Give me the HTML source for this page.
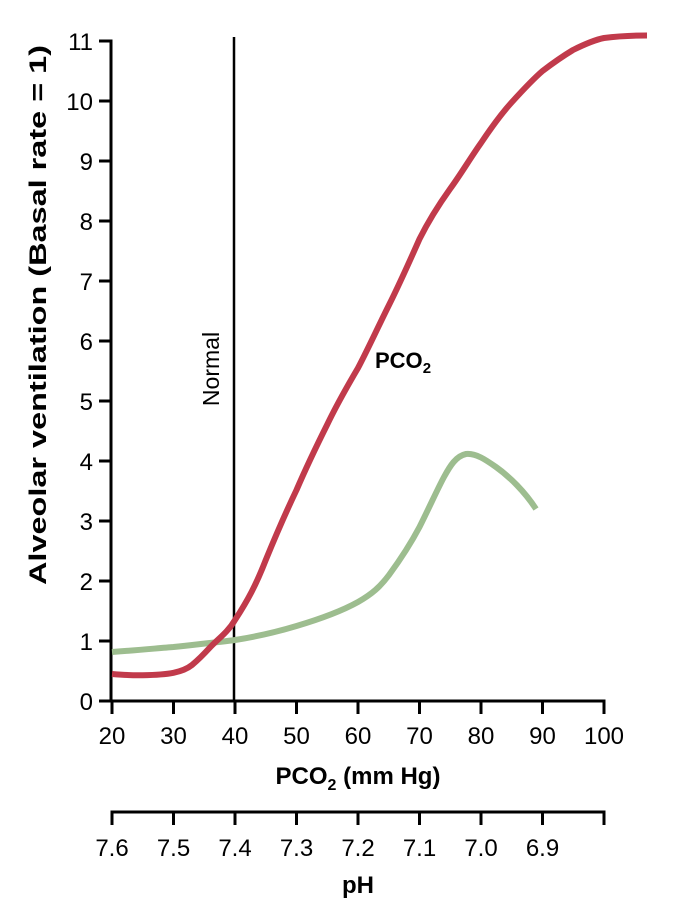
<!DOCTYPE html>
<html><head><meta charset="utf-8"><style>
html,body{margin:0;padding:0;background:#fff;}
svg{display:block;font-family:"Liberation Sans",Arial,sans-serif;}
</style></head><body>
<svg width="677" height="902" viewBox="0 0 677 902" xmlns="http://www.w3.org/2000/svg">
<g stroke="#000" stroke-width="3" fill="none">
<path d="M99,41 H111 V701 H604 V714"/>
<path d="M99,101H111M99,161H111M99,221H111M99,281H111M99,341H111M99,401H111M99,461H111M99,521H111M99,581H111M99,641H111M99,701H111"/>
<path d="M112,701V714M173.5,701V714M235,701V714M296.5,701V714M358,701V714M419.5,701V714M481,701V714M542.5,701V714"/>
<path d="M112,825V812H604V825M173.5,812V825M235,812V825M296.5,812V825M358,812V825M419.5,812V825M481,812V825M542.5,812V825"/>
<path d="M234,37V701" stroke-width="2.5"/>
</g>
<g font-size="24" text-anchor="end" fill="#000">
<text x="93" y="50">11</text><text x="93" y="110">10</text><text x="93" y="170">9</text><text x="93" y="230">8</text><text x="93" y="290">7</text><text x="93" y="350">6</text><text x="93" y="410">5</text><text x="93" y="470">4</text><text x="93" y="530">3</text><text x="93" y="590">2</text><text x="93" y="650">1</text><text x="93" y="710">0</text>
</g>
<g font-size="24" text-anchor="middle" fill="#000">
<text x="112" y="744">20</text><text x="173.5" y="744">30</text><text x="235" y="744">40</text><text x="296.5" y="744">50</text><text x="358" y="744">60</text><text x="419.5" y="744">70</text><text x="481" y="744">80</text><text x="542.5" y="744">90</text><text x="604" y="744">100</text>
<text x="112" y="856">7.6</text><text x="173.5" y="856">7.5</text><text x="235" y="856">7.4</text><text x="296.5" y="856">7.3</text><text x="358" y="856">7.2</text><text x="419.5" y="856">7.1</text><text x="481" y="856">7.0</text><text x="542.5" y="856">6.9</text>
</g>
<text x="358" y="784" font-size="24" font-weight="bold" text-anchor="middle">PCO<tspan font-size="16" dy="6">2</tspan><tspan dy="-6"> (mm Hg)</tspan></text>
<text x="358" y="893" font-size="24" font-weight="bold" text-anchor="middle">pH</text>
<text x="375" y="368" font-size="22" font-weight="bold">PCO<tspan font-size="15" dy="5">2</tspan></text>
<text transform="translate(219,369) rotate(-90)" font-size="23" text-anchor="middle">Normal</text>
<text transform="translate(46,315) rotate(-90)" font-size="24" font-weight="bold" text-anchor="middle" textLength="540" lengthAdjust="spacingAndGlyphs">Alveolar ventilation (Basal rate = 1)</text>
<path d="M112,652 C140,650 160,648 173.5,647 C200,644 220,642 235,640 C260,636 280,631 296.5,626 C320,619 340,612 358,602 C372,594 380,587 389,575 C400,560 410,545 419.5,527 C430,506 438,488 444,477 C450,466 456,456 466,454 C476,453 486,460 496,467 C510,477 525,492 536,509" stroke="#9dbd8f" stroke-width="6" fill="none"/>
<path d="M112,674 C125,675 135,675.5 142.75,675.2 C155,675 165,674.5 173.5,672.8 C182,671 187,669 192,665 C198,660 204,654 210.4,647 C218,639 228,632 235,620 C248,600 256,585 265.75,560 C276,535 286,512 296.5,490 C306,468 316,447 327,425 C338,402 348,385 358,368 C368,349 378,327 389,305 C398,287 408,265 419.5,239 C430,218 440,203 450,189 C461,174 471,157 481,143 C491,128 501,114 512,102 C522,91 532,80 542.5,71 C553,63 563,56 573,50 C583,45 594,40 604,38 C620,36 635,35.5 647,35.5" stroke="#c13a4b" stroke-width="6" fill="none"/>
</svg>
</body></html>
